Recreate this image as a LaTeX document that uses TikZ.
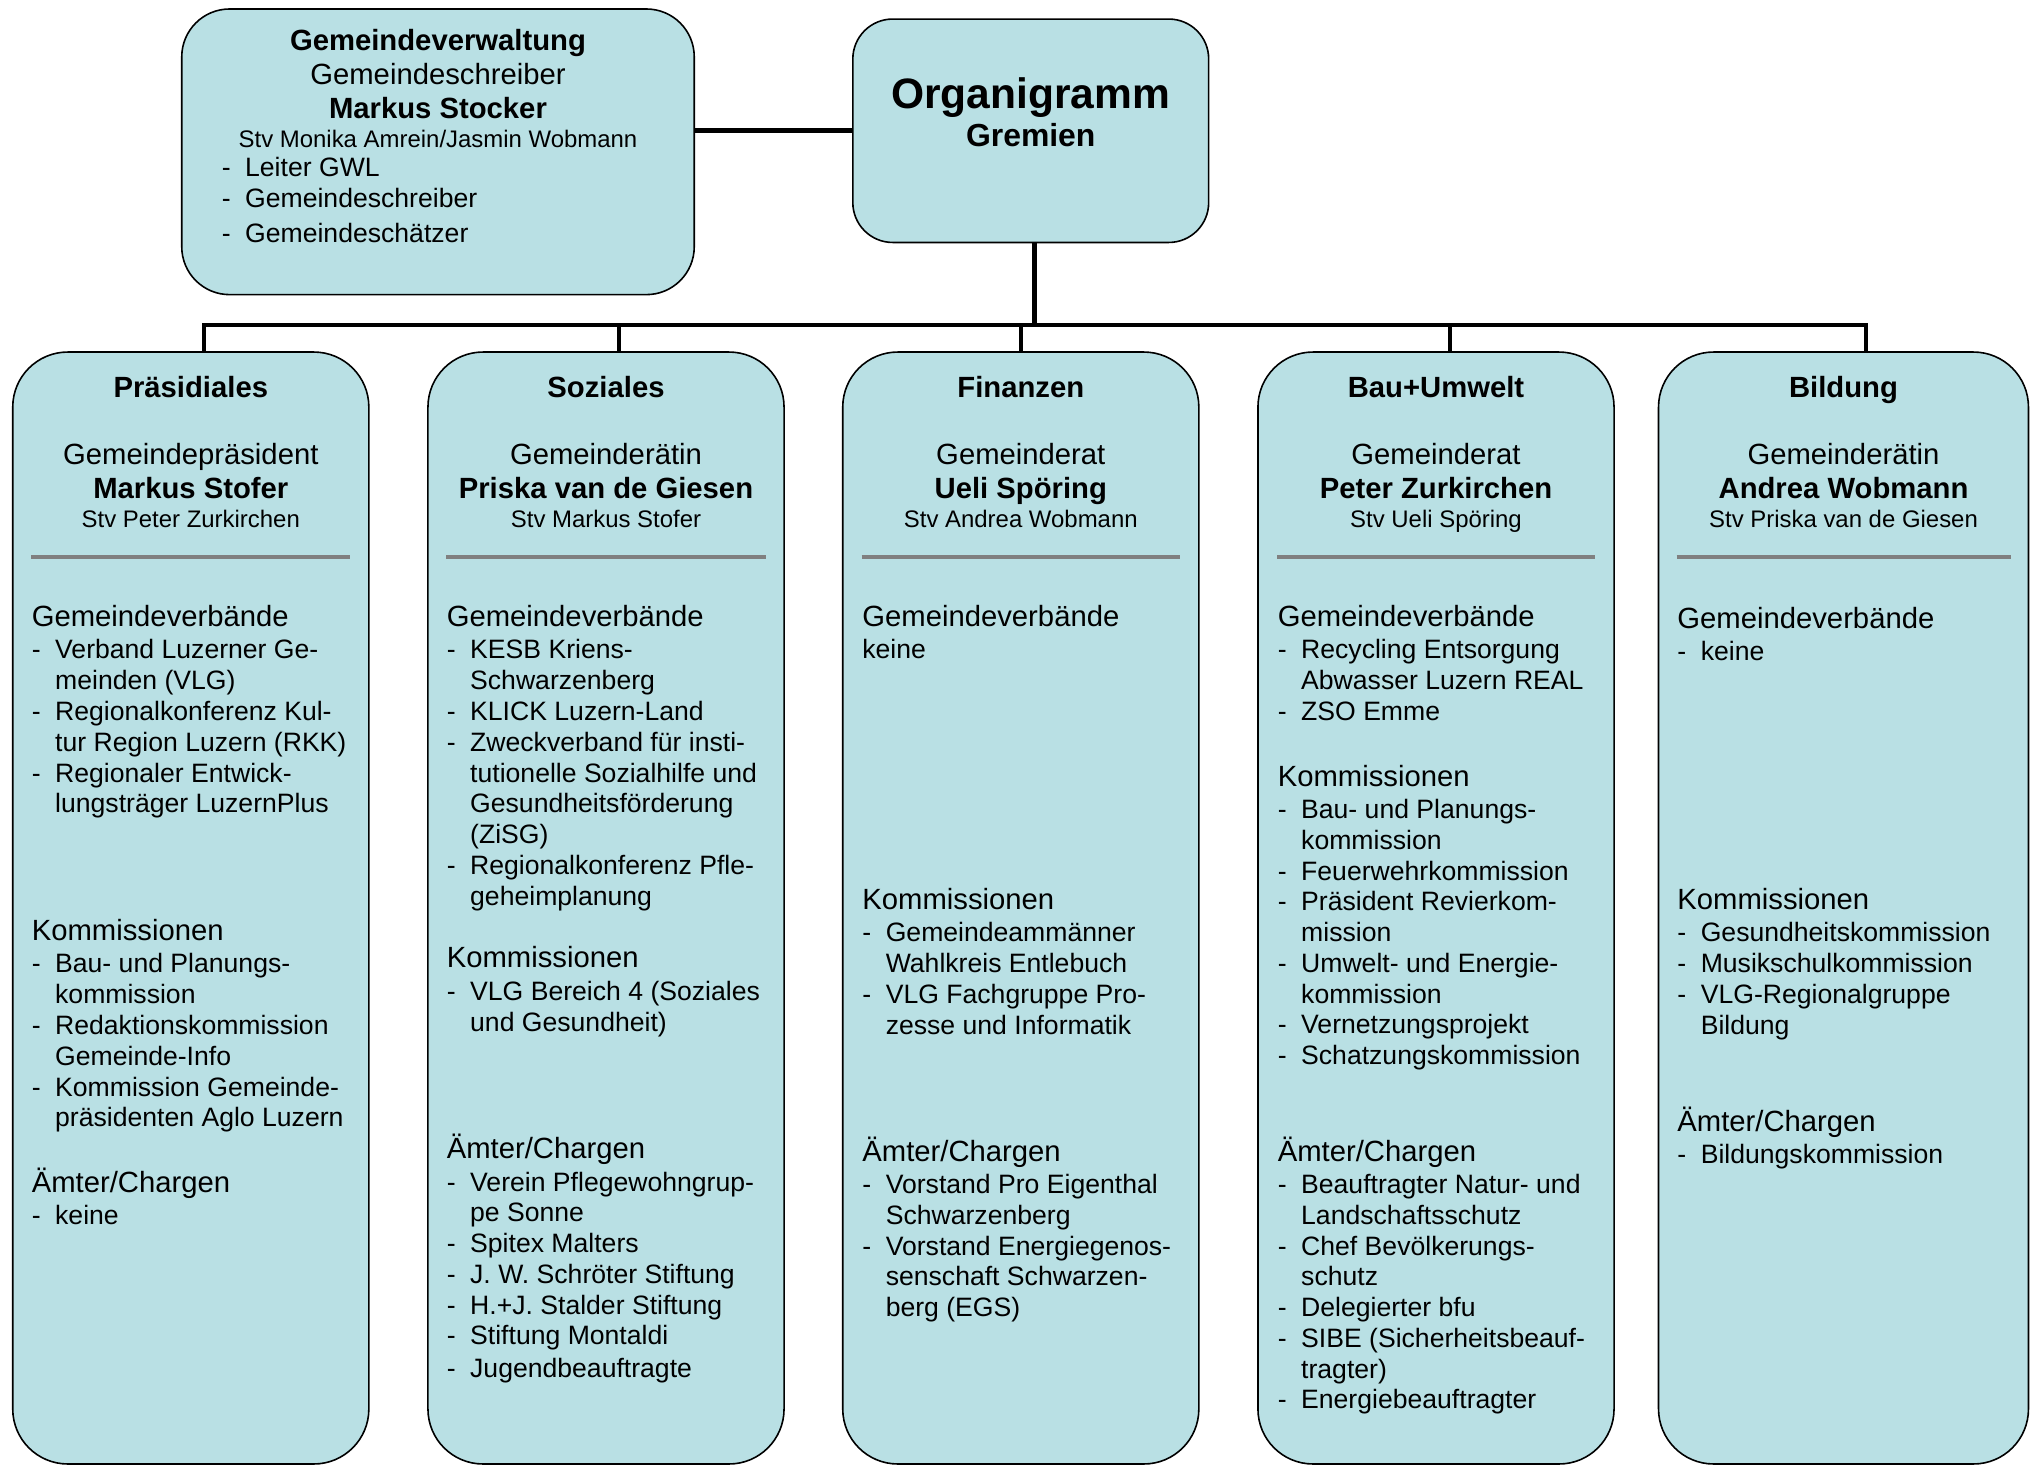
\documentclass[tikz,border=0pt]{standalone}
\usepackage{fontspec}
\setmainfont{Liberation Sans}
\definecolor{boxfill}{RGB}{185,224,228}
\definecolor{sepgrey}{RGB}{128,128,128}
\newcommand{\bl}{\makebox[8.8pt][l]{-}}
\newcommand{\cl}{\hspace*{8.8pt}}
\newcommand{\hd}[1]{{\fontsize{11}{11.58}\selectfont #1}\\[0.6pt]}
\newcommand{\sectbox}[1]{\parbox[t]{150pt}{\raggedright\fontsize{10}{11.58}\selectfont #1}}
\newcommand{\persbox}[3]{\parbox[t]{150pt}{\centering\fontsize{11}{12.8}\selectfont #1\\\textbf{#2}\\[-1.9pt]{\fontsize{9}{12.8}\selectfont #3}}}

\tikzset{every picture/.style={line width=0.6pt}}
\tikzset{
  colbox/.style={draw=black, fill=boxfill, rounded corners=20.7pt, inner sep=0pt, minimum width=133.9pt, minimum height=418.1pt},
  topbox/.style={draw=black, fill=boxfill, inner sep=0pt},
  conn/.style={line width=1.7pt},
  sepline/.style={draw=sepgrey, line width=1.3pt},
  txt/.style={inner sep=0pt, anchor=base},
  ttl/.style={inner sep=0pt, anchor=base, font=\fontsize{11}{13}\selectfont\bfseries},
  sect/.style={inner sep=0pt, anchor=base west}
}

\begin{document}
\begin{tikzpicture}[x=0.376pt,y=0.376pt,yscale=-1,xscale=1]
\useasboundingbox (0,0) rectangle (2035,1466);

%Shape: Rounded Rectangle [Gemeindeverwaltung]
\node[topbox, rounded corners=18pt, minimum width=192.7pt, minimum height=107.4pt] (gv) at (438,151.8) {};
%Shape: Rounded Rectangle [Organigramm]
\node[topbox, rounded corners=15pt, minimum width=133.8pt, minimum height=84pt] (org) at (1030.75,130.75) {};
%Shape: Rounded Rectangle [columns]
\node[colbox] (prs) at (190.8,908) {};
\node[colbox] (soz) at (606,908) {};
\node[colbox] (fin) at (1020.8,908) {};
\node[colbox] (bau) at (1436,908) {};
\node[colbox, minimum width=139.1pt] (bld) at (1843.5,908) {};

%Straight Lines [connectors]
\coordinate (jOrg) at (1034.6,325);
\coordinate (dPrs) at (204,325);
\coordinate (dSoz) at (619,325);
\coordinate (dFin) at (1020.8,325);
\coordinate (dBau) at (1450,325);
\coordinate (dBld) at (1866,325);
\draw[conn, line width=1.9pt] (gv.east |- org.west) -- (org.west);
\draw[conn] (jOrg |- org.south) -- (jOrg);
\draw[conn, line join=miter] (prs.north -| dPrs) -- (dPrs) -- (dBld) -- (bld.north -| dBld);
\draw[conn] (dSoz) -- (soz.north -| dSoz);
\draw[conn] (dFin) -- (fin.north -| dFin);
\draw[conn] (dBau) -- (bau.north -| dBau);

%Straight Lines [separators]
\draw[sepline] (31,557) -- (350,557);
\draw[sepline] (446,557) -- (766,557);
\draw[sepline] (861.6,557) -- (1180,557);
\draw[sepline] (1277,557) -- (1595,557);
\draw[sepline] (1676.6,557) -- (2010.5,557);

% Text Node
\node[txt] (gvT) at (438,50) {\parbox[t]{200pt}{\centering\fontsize{11}{12.8}\selectfont\textbf{Gemeindeverwaltung}\\Gemeindeschreiber\\\textbf{Markus Stocker}\\[-1.9pt]{\fontsize{9}{12.8}\selectfont Stv Monika Amrein/Jasmin Wobmann}}};
% Text Node
\node[sect] (gvL) at (221,176) {\parbox[t]{150pt}{\raggedright\fontsize{10}{11.9}\selectfont \bl Leiter GWL\\ \bl Gemeindeschreiber\\[1.3pt] \bl Gemeindeschätzer}};
% Text Node
\node[txt] (orgT) at (1030.75,108) {\fontsize{16}{19}\selectfont\bfseries Organigramm};
% Text Node
\node[txt] (orgS) at (1030.75,146) {\fontsize{12}{14}\selectfont\bfseries Gremien};

% Text Node [Praesidiales]
\node[ttl] (prsT) at (190.8,397) {Präsidiales};
\node[txt] (prsP) at (190.8,464) {\persbox{Gemeindepräsident}{Markus Stofer}{Stv Peter Zurkirchen}};
\node[sect] (prsV) at (31,626.5) {\sectbox{\hd{Gemeindeverbände}
  \bl Verband Luzerner Ge-\\ \cl meinden (VLG)\\
  \bl Regionalkonferenz Kul-\\ \cl tur Region Luzern (RKK)\\
  \bl Regionaler Entwick-\\ \cl lungsträger LuzernPlus}};
\node[sect] (prsK) at (31,940.5) {\sectbox{\hd{Kommissionen}
  \bl Bau- und Planungs-\\ \cl kommission\\
  \bl Redaktionskommission\\ \cl Gemeinde-Info\\
  \bl Kommission Gemeinde-\\ \cl präsidenten Aglo Luzern}};
\node[sect] (prsA) at (31,1192) {\sectbox{\hd{Ämter/Chargen}
  \bl keine}};

% Text Node [Soziales]
\node[ttl] (sozT) at (606,397) {Soziales};
\node[txt] (sozP) at (606,464) {\persbox{Gemeinderätin}{Priska van de Giesen}{Stv Markus Stofer}};
\node[sect] (sozV) at (446,626.5) {\sectbox{\hd{Gemeindeverbände}
  \bl KESB Kriens-\\ \cl Schwarzenberg\\
  \bl KLICK Luzern-Land\\
  \bl Zweckverband für insti-\\ \cl tutionelle Sozialhilfe und\\ \cl Gesundheitsförderung\\ \cl (ZiSG)\\
  \bl Regionalkonferenz Pfle-\\ \cl geheimplanung}};
\node[sect] (sozK) at (446,967.8) {\sectbox{\hd{Kommissionen}
  \bl VLG Bereich 4 (Soziales\\ \cl und Gesundheit)}};
\node[sect] (sozA) at (446,1158.6) {\sectbox{\hd{Ämter/Chargen}
  \bl Verein Pflegewohngrup-\\ \cl pe Sonne\\
  \bl Spitex Malters\\
  \bl J. W. Schröter Stiftung\\
  \bl H.+J. Stalder Stiftung\\
  \bl Stiftung Montaldi\\[0.5pt]
  \bl Jugendbeauftragte}};

% Text Node [Finanzen]
\node[ttl] (finT) at (1020.8,397) {Finanzen};
\node[txt] (finP) at (1020.8,464) {\persbox{Gemeinderat}{Ueli Spöring}{Stv Andrea Wobmann}};
\node[sect] (finV) at (861.6,626.5) {\sectbox{\hd{Gemeindeverbände}
  keine}};
\node[sect] (finK) at (861.6,909.4) {\sectbox{\hd{Kommissionen}
  \bl Gemeindeammänner\\ \cl Wahlkreis Entlebuch\\
  \bl VLG Fachgruppe Pro-\\ \cl zesse und Informatik}};
\node[sect] (finA) at (861.6,1161) {\sectbox{\hd{Ämter/Chargen}
  \bl Vorstand Pro Eigenthal\\ \cl Schwarzenberg\\
  \bl Vorstand Energiegenos-\\ \cl senschaft Schwarzen-\\ \cl berg (EGS)}};

% Text Node [Bau+Umwelt]
\node[ttl] (bauT) at (1436,397) {Bau+Umwelt};
\node[txt] (bauP) at (1436,464) {\persbox{Gemeinderat}{Peter Zurkirchen}{Stv Ueli Spöring}};
\node[sect] (bauV) at (1277,626.5) {\sectbox{\hd{Gemeindeverbände}
  \bl Recycling Entsorgung\\ \cl Abwasser Luzern REAL\\
  \bl ZSO Emme}};
\node[sect] (bauK) at (1277,786) {\sectbox{\hd{Kommissionen}
  \bl Bau- und Planungs-\\ \cl kommission\\
  \bl Feuerwehrkommission\\
  \bl Präsident Revierkom-\\ \cl mission\\
  \bl Umwelt- und Energie-\\ \cl kommission\\
  \bl Vernetzungsprojekt\\
  \bl Schatzungskommission}};
\node[sect] (bauA) at (1277,1161) {\sectbox{\hd{Ämter/Chargen}
  \bl Beauftragter Natur- und\\ \cl Landschaftsschutz\\
  \bl Chef Bevölkerungs-\\ \cl schutz\\
  \bl Delegierter bfu\\
  \bl SIBE (Sicherheitsbeauf-\\ \cl tragter)\\
  \bl Energiebeauftragter}};

% Text Node [Bildung]
\node[ttl] (bldT) at (1843.5,397) {Bildung};
\node[txt] (bldP) at (1843.5,464) {\persbox{Gemeinderätin}{Andrea Wobmann}{Stv Priska van de Giesen}};
\node[sect] (bldV) at (1676.6,628) {\sectbox{\hd{Gemeindeverbände}
  \bl keine}};
\node[sect] (bldK) at (1676.6,909.4) {\sectbox{\hd{Kommissionen}
  \bl Gesundheitskommission\\
  \bl Musikschulkommission\\
  \bl VLG-Regionalgruppe\\ \cl Bildung}};
\node[sect] (bldA) at (1676.6,1131) {\sectbox{\hd{Ämter/Chargen}
  \bl Bildungskommission}};

\end{tikzpicture}
\end{document}
